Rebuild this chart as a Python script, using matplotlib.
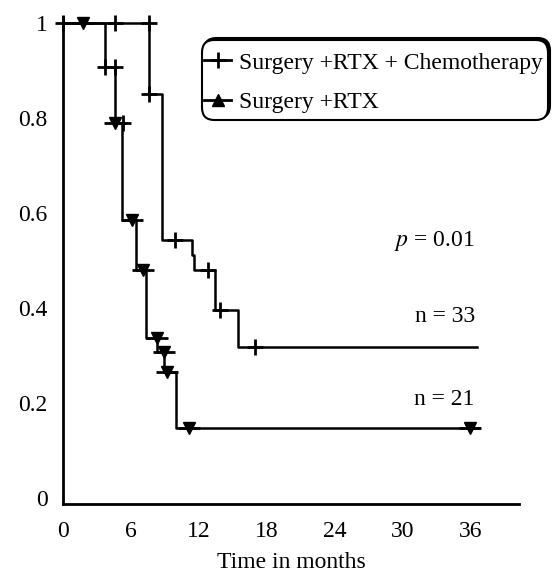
import matplotlib
matplotlib.use("Agg")
import matplotlib.pyplot as plt
from matplotlib.lines import Line2D
from matplotlib.patches import FancyBboxPatch

plt.rcParams['font.family'] = ['Liberation Serif', 'DejaVu Serif']
plt.rcParams['mathtext.fontset'] = 'stix'

# survival steps (months, proportion)
chemo_t = [0, 7.63, 8.73, 11.38, 11.58, 13.44, 15.5, 36.6]
chemo_s = [1.0, 0.85, 0.543, 0.512, 0.481, 0.396, 0.317, 0.317]
rtx_t = [0, 3.71, 4.6, 5.19, 6.45, 7.34, 8.28, 8.96, 9.99, 36.8]
rtx_s = [1.0, 0.908, 0.789, 0.585, 0.481, 0.336, 0.308, 0.266, 0.147, 0.147]

# censor marks as they appear
plus_t = [0, 4.6, 7.63, 3.71, 4.6, 7.63, 5.33, 9.9, 12.85, 13.88, 16.98]
plus_s = [1.0, 1.0, 1.0, 0.908, 0.908, 0.85, 0.789, 0.543, 0.481, 0.396, 0.317]
tri_t = [1.77, 4.6, 6.07, 7.05, 8.28, 8.96, 9.17, 11.14, 35.99]
tri_s = [1.0, 0.789, 0.585, 0.481, 0.336, 0.308, 0.266, 0.147, 0.147]

xticks = [0, 6, 12, 18, 24, 30, 36]
yticks = [0, 0.2, 0.4, 0.6, 0.8, 1.0]
ylabels = ['0', '0.2', '0.4', '0.6', '0.8', '1']

fs = 17

fig = plt.figure(figsize=(5.53, 5.72), dpi=100)
ax = fig.add_axes([63/553, 68/572, 456/553, 487/572])

lw = 1.8
ax.step(chemo_t, chemo_s, where='post', color='k', lw=lw, clip_on=False)
ax.step(rtx_t, rtx_s, where='post', color='k', lw=lw, clip_on=False)
ax.plot(plus_t, plus_s, ls='none', marker='+', ms=12, mew=2, color='k', clip_on=False)
ax.plot(tri_t, tri_s, ls='none', marker='_', ms=16, mew=2, color='k', clip_on=False)
ax.plot(tri_t, tri_s, ls='none', marker='v', ms=9, color='k', clip_on=False)

ax.set_xlim(0, 40.3)
ax.set_ylim(-0.0126, 1.0126)
ax.set_xticks(xticks)
ax.set_yticks(yticks)
ax.set_yticklabels(ylabels)
ax.tick_params(length=0, labelsize=fs)
ax.tick_params(axis='x', pad=12.5)
ax.tick_params(axis='y', pad=11)
for s in ['top', 'right']:
    ax.spines[s].set_visible(False)
for s in ['left', 'bottom']:
    ax.spines[s].set_linewidth(2)
ax.set_xlabel('Time in months', fontsize=fs, labelpad=7)

ax.text(36.4, 0.542, '$p$ = 0.01', ha='right', va='center', fontsize=fs)
ax.text(36.4, 0.382, 'n = 33', ha='right', va='center', fontsize=fs)
ax.text(36.4, 0.208, 'n = 21', ha='right', va='center', fontsize=fs)

# legend box with offset shadow
bx, by, bw, bh = 202/553, 1 - 120/572, 346/553, 80/572
shadow = FancyBboxPatch((bx + 2/553, by + 2/572), bw, bh, transform=fig.transFigure,
                        boxstyle='round,pad=0,rounding_size=0.022',
                        facecolor='k', edgecolor='k', lw=1.5)
box = FancyBboxPatch((bx, by), bw, bh, transform=fig.transFigure,
                     boxstyle='round,pad=0,rounding_size=0.022',
                     facecolor='white', edgecolor='k', lw=1.5)
fig.add_artist(shadow)
fig.add_artist(box)

handles = [Line2D([0], [0], color='k', lw=2, marker='+', ms=12, mew=2),
           Line2D([0], [0], color='k', lw=2, marker='^', ms=8)]
labels = ['Surgery +RTX + Chemotherapy', 'Surgery +RTX']
leg = fig.legend(handles, labels, loc='upper left', bbox_to_anchor=(204/553, 1 - 52/572),
                 frameon=False, handlelength=1.15, handletextpad=0.35, labelspacing=0.78,
                 borderaxespad=0, borderpad=0, fontsize=fs)
leg.set_zorder(5)

fig.savefig('out.png', dpi=100)
